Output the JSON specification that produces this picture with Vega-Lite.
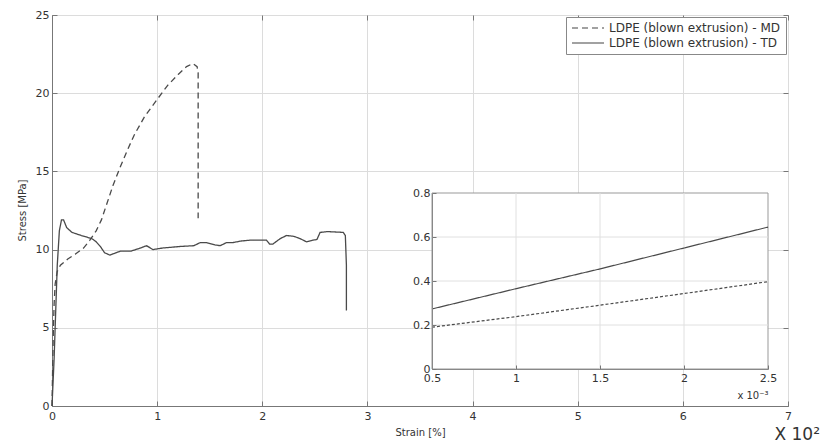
{
  "$schema": "https://vega.github.io/schema/vega-lite/v6.json",
  "width": 736,
  "height": 391,
  "autosize": {"type": "none"},
  "padding": {"left": 52, "top": 15, "right": 34, "bottom": 42},
  "background": "white",
  "title": {"text": "X 10²", "orient": "bottom", "anchor": "end", "frame": "group", "fontSize": 17, "fontWeight": "normal", "font": "DejaVu Sans", "color": "#333", "offset": -10, "dx": 32},
  "config": {
    "font": "DejaVu Sans",
    "view": {"stroke": "#8a8a8a", "strokeWidth": 1},
    "axis": {"labelFont": "DejaVu Sans", "labelFontSize": 11, "labelColor": "#333", "labelFlush": false, "titleFont": "DejaVu Sans", "titleFontSize": 10, "titleFontWeight": "normal", "titleColor": "#333", "domainColor": "#777", "tickColor": "#777", "gridColor": "#dcdcdc"}
  },
  "datasets": {
    "main": [
      {"series": "LDPE (blown extrusion) - MD", "i": 0, "strain": 0, "stress": 0},
      {"series": "LDPE (blown extrusion) - MD", "i": 1, "strain": 0.005, "stress": 2},
      {"series": "LDPE (blown extrusion) - MD", "i": 2, "strain": 0.012, "stress": 4.5},
      {"series": "LDPE (blown extrusion) - MD", "i": 3, "strain": 0.02, "stress": 6.5},
      {"series": "LDPE (blown extrusion) - MD", "i": 4, "strain": 0.03, "stress": 7.8},
      {"series": "LDPE (blown extrusion) - MD", "i": 5, "strain": 0.05, "stress": 8.6},
      {"series": "LDPE (blown extrusion) - MD", "i": 6, "strain": 0.08, "stress": 9.0},
      {"series": "LDPE (blown extrusion) - MD", "i": 7, "strain": 0.15, "stress": 9.4},
      {"series": "LDPE (blown extrusion) - MD", "i": 8, "strain": 0.22, "stress": 9.7},
      {"series": "LDPE (blown extrusion) - MD", "i": 9, "strain": 0.3, "stress": 10.1},
      {"series": "LDPE (blown extrusion) - MD", "i": 10, "strain": 0.36, "stress": 10.6},
      {"series": "LDPE (blown extrusion) - MD", "i": 11, "strain": 0.42, "stress": 11.2},
      {"series": "LDPE (blown extrusion) - MD", "i": 12, "strain": 0.47, "stress": 11.9},
      {"series": "LDPE (blown extrusion) - MD", "i": 13, "strain": 0.52, "stress": 12.9},
      {"series": "LDPE (blown extrusion) - MD", "i": 14, "strain": 0.58, "stress": 14.1},
      {"series": "LDPE (blown extrusion) - MD", "i": 15, "strain": 0.65, "stress": 15.3},
      {"series": "LDPE (blown extrusion) - MD", "i": 16, "strain": 0.72, "stress": 16.4},
      {"series": "LDPE (blown extrusion) - MD", "i": 17, "strain": 0.78, "stress": 17.3},
      {"series": "LDPE (blown extrusion) - MD", "i": 18, "strain": 0.88, "stress": 18.5},
      {"series": "LDPE (blown extrusion) - MD", "i": 19, "strain": 1.0, "stress": 19.6},
      {"series": "LDPE (blown extrusion) - MD", "i": 20, "strain": 1.1, "stress": 20.5},
      {"series": "LDPE (blown extrusion) - MD", "i": 21, "strain": 1.2, "stress": 21.2},
      {"series": "LDPE (blown extrusion) - MD", "i": 22, "strain": 1.28, "stress": 21.7},
      {"series": "LDPE (blown extrusion) - MD", "i": 23, "strain": 1.34, "stress": 21.9},
      {"series": "LDPE (blown extrusion) - MD", "i": 24, "strain": 1.38, "stress": 21.7},
      {"series": "LDPE (blown extrusion) - MD", "i": 25, "strain": 1.39, "stress": 21.3},
      {"series": "LDPE (blown extrusion) - MD", "i": 26, "strain": 1.39, "stress": 12.0},
      {"series": "LDPE (blown extrusion) - TD", "i": 0, "strain": 0, "stress": 0},
      {"series": "LDPE (blown extrusion) - TD", "i": 1, "strain": 0.02, "stress": 3},
      {"series": "LDPE (blown extrusion) - TD", "i": 2, "strain": 0.035, "stress": 6},
      {"series": "LDPE (blown extrusion) - TD", "i": 3, "strain": 0.05, "stress": 9},
      {"series": "LDPE (blown extrusion) - TD", "i": 4, "strain": 0.07, "stress": 11.2},
      {"series": "LDPE (blown extrusion) - TD", "i": 5, "strain": 0.09, "stress": 11.9},
      {"series": "LDPE (blown extrusion) - TD", "i": 6, "strain": 0.11, "stress": 11.9},
      {"series": "LDPE (blown extrusion) - TD", "i": 7, "strain": 0.14, "stress": 11.4},
      {"series": "LDPE (blown extrusion) - TD", "i": 8, "strain": 0.19, "stress": 11.1},
      {"series": "LDPE (blown extrusion) - TD", "i": 9, "strain": 0.28, "stress": 10.9},
      {"series": "LDPE (blown extrusion) - TD", "i": 10, "strain": 0.38, "stress": 10.7},
      {"series": "LDPE (blown extrusion) - TD", "i": 11, "strain": 0.42, "stress": 10.5},
      {"series": "LDPE (blown extrusion) - TD", "i": 12, "strain": 0.46, "stress": 10.2},
      {"series": "LDPE (blown extrusion) - TD", "i": 13, "strain": 0.5, "stress": 9.8},
      {"series": "LDPE (blown extrusion) - TD", "i": 14, "strain": 0.55, "stress": 9.65},
      {"series": "LDPE (blown extrusion) - TD", "i": 15, "strain": 0.65, "stress": 9.9},
      {"series": "LDPE (blown extrusion) - TD", "i": 16, "strain": 0.75, "stress": 9.9},
      {"series": "LDPE (blown extrusion) - TD", "i": 17, "strain": 0.84, "stress": 10.1},
      {"series": "LDPE (blown extrusion) - TD", "i": 18, "strain": 0.9, "stress": 10.25},
      {"series": "LDPE (blown extrusion) - TD", "i": 19, "strain": 0.96, "stress": 10.0},
      {"series": "LDPE (blown extrusion) - TD", "i": 20, "strain": 1.05, "stress": 10.1},
      {"series": "LDPE (blown extrusion) - TD", "i": 21, "strain": 1.22, "stress": 10.2},
      {"series": "LDPE (blown extrusion) - TD", "i": 22, "strain": 1.35, "stress": 10.25},
      {"series": "LDPE (blown extrusion) - TD", "i": 23, "strain": 1.41, "stress": 10.45},
      {"series": "LDPE (blown extrusion) - TD", "i": 24, "strain": 1.47, "stress": 10.45},
      {"series": "LDPE (blown extrusion) - TD", "i": 25, "strain": 1.55, "stress": 10.3},
      {"series": "LDPE (blown extrusion) - TD", "i": 26, "strain": 1.6, "stress": 10.25},
      {"series": "LDPE (blown extrusion) - TD", "i": 27, "strain": 1.66, "stress": 10.45},
      {"series": "LDPE (blown extrusion) - TD", "i": 28, "strain": 1.72, "stress": 10.45},
      {"series": "LDPE (blown extrusion) - TD", "i": 29, "strain": 1.8, "stress": 10.55},
      {"series": "LDPE (blown extrusion) - TD", "i": 30, "strain": 1.88, "stress": 10.6},
      {"series": "LDPE (blown extrusion) - TD", "i": 31, "strain": 2.04, "stress": 10.6},
      {"series": "LDPE (blown extrusion) - TD", "i": 32, "strain": 2.07, "stress": 10.35},
      {"series": "LDPE (blown extrusion) - TD", "i": 33, "strain": 2.1, "stress": 10.35},
      {"series": "LDPE (blown extrusion) - TD", "i": 34, "strain": 2.17, "stress": 10.7},
      {"series": "LDPE (blown extrusion) - TD", "i": 35, "strain": 2.23, "stress": 10.9},
      {"series": "LDPE (blown extrusion) - TD", "i": 36, "strain": 2.3, "stress": 10.85},
      {"series": "LDPE (blown extrusion) - TD", "i": 37, "strain": 2.36, "stress": 10.7},
      {"series": "LDPE (blown extrusion) - TD", "i": 38, "strain": 2.42, "stress": 10.5},
      {"series": "LDPE (blown extrusion) - TD", "i": 39, "strain": 2.48, "stress": 10.6},
      {"series": "LDPE (blown extrusion) - TD", "i": 40, "strain": 2.52, "stress": 10.65},
      {"series": "LDPE (blown extrusion) - TD", "i": 41, "strain": 2.55, "stress": 11.1},
      {"series": "LDPE (blown extrusion) - TD", "i": 42, "strain": 2.62, "stress": 11.15},
      {"series": "LDPE (blown extrusion) - TD", "i": 43, "strain": 2.77, "stress": 11.1},
      {"series": "LDPE (blown extrusion) - TD", "i": 44, "strain": 2.79, "stress": 10.9},
      {"series": "LDPE (blown extrusion) - TD", "i": 45, "strain": 2.8, "stress": 9.0},
      {"series": "LDPE (blown extrusion) - TD", "i": 46, "strain": 2.8, "stress": 6.1}
    ],
    "inset": [
      {"series": "MD", "strain": 0.5, "stress": 0.19},
      {"series": "MD", "strain": 1.0, "stress": 0.238},
      {"series": "MD", "strain": 1.5, "stress": 0.29},
      {"series": "MD", "strain": 2.0, "stress": 0.343},
      {"series": "MD", "strain": 2.5, "stress": 0.397},
      {"series": "TD", "strain": 0.5, "stress": 0.273},
      {"series": "TD", "strain": 1.0, "stress": 0.365},
      {"series": "TD", "strain": 1.5, "stress": 0.455},
      {"series": "TD", "strain": 2.0, "stress": 0.55},
      {"series": "TD", "strain": 2.5, "stress": 0.645}
    ],
    "box": [
      {"strain": 0.5, "strain2": 2.5, "stress": 0, "stress2": 0.8}
    ],
    "insetgrid": [
      {"strain": 1.0, "strain2": 1.0, "stress": 0, "stress2": 0.8},
      {"strain": 1.5, "strain2": 1.5, "stress": 0, "stress2": 0.8},
      {"strain": 2.0, "strain2": 2.0, "stress": 0, "stress2": 0.8},
      {"strain": 0.5, "strain2": 2.5, "stress": 0.2, "stress2": 0.2},
      {"strain": 0.5, "strain2": 2.5, "stress": 0.4, "stress2": 0.4},
      {"strain": 0.5, "strain2": 2.5, "stress": 0.6, "stress2": 0.6}
    ]
  },
  "layer": [
    {
      "data": {"name": "main"},
      "mark": {"type": "line", "color": "#4a4a4a", "strokeWidth": 1.3},
      "encoding": {
        "x": {"field": "strain", "type": "quantitative", "scale": {"domain": [0, 7], "nice": false, "zero": false},
              "axis": {"title": "Strain [%]", "values": [0, 1, 2, 3, 4, 5, 6, 7], "tickSize": -5, "labelPadding": 9, "grid": true, "domain": true, "titleY": 26, "titleBaseline": "middle"}},
        "y": {"field": "stress", "type": "quantitative", "scale": {"domain": [0, 25], "nice": false, "zero": false},
              "axis": {"title": "Stress [MPa]", "values": [0, 5, 10, 15, 20, 25], "tickSize": -5, "labelPadding": 8, "grid": true, "domain": true, "titleX": -30, "titleY": 195, "titleAngle": -90, "titleBaseline": "middle", "titleAlign": "center"}},
        "strokeDash": {"field": "series", "type": "nominal",
          "scale": {"domain": ["LDPE (blown extrusion) - MD", "LDPE (blown extrusion) - TD"], "range": [[6, 4], [1, 0]]},
          "legend": {"title": null, "orient": "top-right", "offset": 2, "strokeColor": "#888", "fillColor": "white", "padding": 5, "symbolType": "M-3.2,0H3.2", "symbolSize": 100, "symbolOffset": 11, "symbolFillColor": "transparent", "symbolStrokeWidth": 1.2, "symbolStrokeColor": "#444", "labelFont": "DejaVu Sans", "labelFontSize": 12, "labelColor": "#333", "labelOffset": 15, "rowPadding": 3, "labelLimit": 300, "cornerRadius": 0}},
        "order": {"field": "i", "type": "quantitative"}
      }
    },
    {
      "encoding": {
        "x": {"field": "strain", "type": "quantitative", "scale": {"domain": [0.5, 2.5], "range": [380, 716], "nice": false, "zero": false},
              "axis": {"orient": "bottom", "offset": -37, "values": [0.5, 1, 1.5, 2, 2.5], "format": "~g", "title": "x 10⁻³", "titleAnchor": "end", "titleAlign": "right", "titleY": 26, "titleBaseline": "middle", "titleFontSize": 10, "tickSize": -4, "labelPadding": 7, "grid": false, "zindex": 1, "domain": true, "domainColor": "#888"}},
        "y": {"field": "stress", "type": "quantitative", "scale": {"domain": [0, 0.8], "range": [354, 178], "nice": false, "zero": false},
              "axis": {"orient": "left", "offset": -380, "values": [0, 0.2, 0.4, 0.6, 0.8], "format": "~g", "title": null, "tickSize": -4, "labelPadding": 6, "grid": false, "zindex": 1, "domain": true, "domainColor": "#888"}}
      },
      "layer": [
        {
          "data": {"name": "box"},
          "mark": {"type": "rect", "fill": "white", "stroke": "#999", "strokeWidth": 1},
          "encoding": {"x2": {"field": "strain2"}, "y2": {"field": "stress2"}}
        },
        {
          "data": {"name": "insetgrid"},
          "mark": {"type": "rule", "color": "#e0e0e0", "strokeWidth": 1},
          "encoding": {"x2": {"field": "strain2"}, "y2": {"field": "stress2"}}
        },
        {
          "data": {"name": "inset"},
          "mark": {"type": "line", "color": "#4a4a4a", "strokeWidth": 1.2},
          "encoding": {
            "detail": {"field": "series"},
            "strokeDash": {"condition": {"test": "datum.series === 'MD'", "value": [3, 2]}, "value": [1, 0]}
          }
        }
      ]
    },
    {
      "data": {"name": "main"},
      "mark": {"type": "point", "opacity": 0},
      "encoding": {
        "x": {"field": "strain", "type": "quantitative", "scale": {"domain": [0, 7], "nice": false, "zero": false},
              "axis": {"orient": "top", "values": [0, 1, 2, 3, 4, 5, 6, 7], "labels": false, "tickSize": -5, "domain": false, "grid": false, "title": null}},
        "y": {"field": "stress", "type": "quantitative", "scale": {"domain": [0, 25], "nice": false, "zero": false},
              "axis": {"orient": "right", "values": [0, 5, 10, 15, 20, 25], "labels": false, "tickSize": -5, "domain": false, "grid": false, "title": null}}
      }
    }
  ],
  "resolve": {"scale": {"x": "independent", "y": "independent"}}
}
